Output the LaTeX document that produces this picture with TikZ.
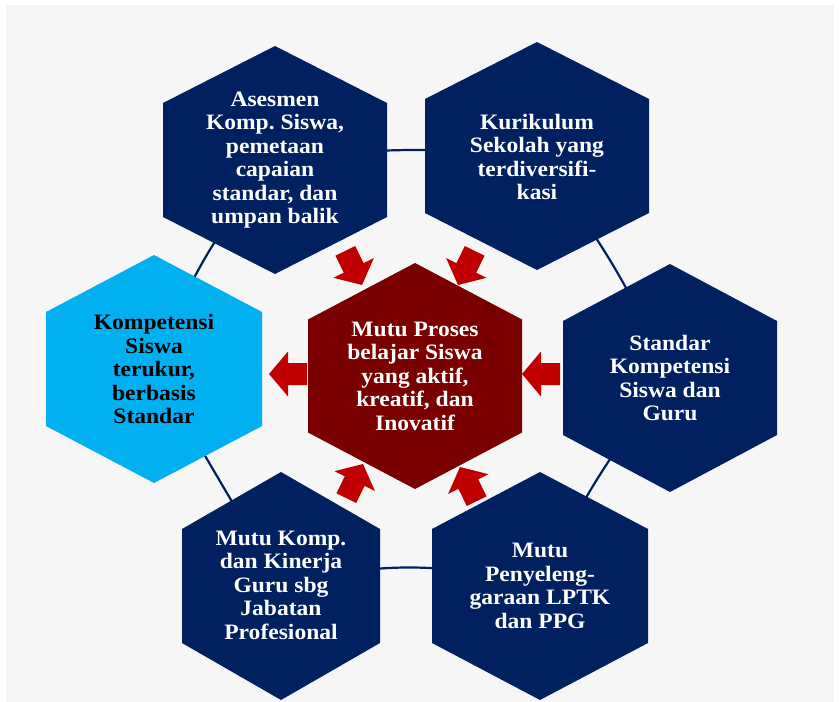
\documentclass[tikz,border=0pt]{standalone}
\usepackage{fontspec}
\setmainfont{Liberation Serif}[FakeStretch=1.07]
\frenchspacing
\pgfdeclarelayer{bg}
\pgfsetlayers{bg,main}
\definecolor{navy}{RGB}{0,32,96}
\definecolor{maroonc}{RGB}{122,0,0}
\definecolor{arrowred}{RGB}{192,0,0}
\definecolor{skyc}{RGB}{0,176,240}
\definecolor{bggray}{RGB}{246,246,246}
\newcommand\hexpath[4]{({#1},{#2-#4}) -- ({#1+#3},{#2-#4/2}) -- ({#1+#3},{#2+#4/2}) -- ({#1},{#2+#4}) -- ({#1-#3},{#2+#4/2}) -- ({#1-#3},{#2-#4/2}) -- cycle}
\newcommand\blockarrow[3]{\fill[arrowred,shift={(#1,#2)},rotate=#3] (0,0) -- (-19,-22.5) -- (-19,-11) -- (-38,-11) -- (-38,11) -- (-19,11) -- (-19,22.5) -- cycle;}
\tikzset{
  txt/.style={text=white, font=\bfseries\fontsize{22}{23.5}\selectfont, align=center, inner sep=0pt},
  ring/.style={draw=navy, line width=2.2pt}
}
\begin{document}
\begin{tikzpicture}[x=1pt,y=-1pt]
\useasboundingbox (0,0) rectangle (839,702);
\begin{pgfonlayer}{bg}
\fill[white] (0,0) rectangle (839,702);
\fill[bggray] (6,5) rectangle (834,702);
\end{pgfonlayer}
% hexagons
\fill[navy] \hexpath{275}{160}{112}{114};
\fill[navy] \hexpath{537}{156}{112}{114};
\fill[skyc] \hexpath{154}{369}{108}{114};
\fill[maroonc] \hexpath{415}{376}{107}{113};
\fill[navy] \hexpath{670}{378}{107}{114};
\fill[navy] \hexpath{281}{586}{99}{114};
\fill[navy] \hexpath{540}{586}{108}{114};
% texts
\node[txt] (tl) at (275,160) {Asesmen\\Komp. Siswa,\\pemetaan\\capaian\\standar, dan\\umpan balik};
\node[txt] (tr) at (537,157) {Kurikulum\\Sekolah yang\\terdiversifi-\\kasi};
\node[txt,text=black] (kl) at (154,369) {Kompetensi\\Siswa\\terukur,\\berbasis\\Standar};
\node[txt] (c) at (415,376) {Mutu Proses\\belajar Siswa\\yang aktif,\\kreatif, dan\\Inovatif};
\node[txt] (r) at (670,378) {Standar\\Kompetensi\\Siswa dan\\Guru};
\node[txt] (bl) at (281,585) {Mutu Komp.\\dan Kinerja\\Guru sbg\\Jabatan\\Profesional};
\node[txt] (br) at (540,586) {Mutu\\Penyeleng-\\garaan LPTK\\dan PPG};
% arrows
\blockarrow{362}{285}{-64}
\blockarrow{458}{285}{-116}
\blockarrow{269}{374}{180}
\blockarrow{522}{374}{180}
\blockarrow{363}{464}{64}
\blockarrow{460}{467}{116}
% ring connectors
\begin{pgfonlayer}{bg}
\draw[ring] (tl.center) to[bend left=6.3] (tr.center);
\draw[ring] (tl.center) to[bend right=9.3] (kl.center);
\draw[ring] (kl.center) -- (bl.center);
\draw[ring] (bl.center) to[bend left=13.7] (br.center);
\draw[ring] (br.center) to[bend left=6.5] (r.center);
\draw[ring] (r.center) to[bend right=7.1] (tr.center);
\end{pgfonlayer}
\end{tikzpicture}
\end{document}
